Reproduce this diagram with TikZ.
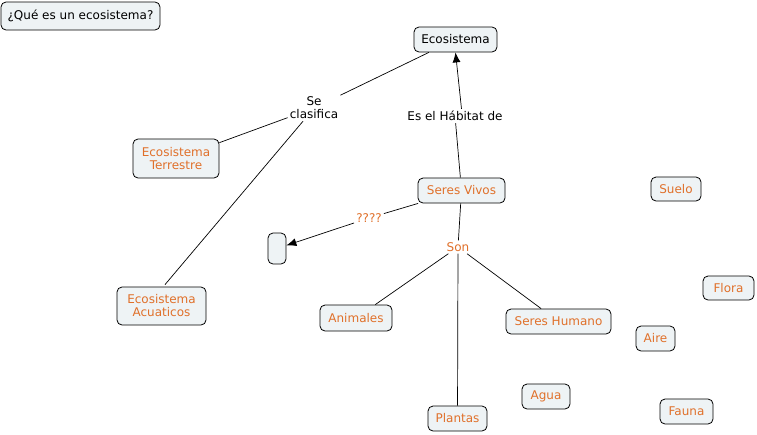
\documentclass[tikz,border=0pt]{standalone}
\usepackage{fontspec}
\setmainfont{DejaVu Sans}
\usetikzlibrary{arrows.meta}
\definecolor{boxfill}{HTML}{EEF3F5}
\definecolor{orng}{HTML}{E0702A}
\begin{document}
\begin{tikzpicture}[x=1pt,y=-1pt,
  every node/.style={font=\fontsize{12}{14}\selectfont},
  cbox/.style={draw=black, line width=0.8pt, fill=boxfill, rounded corners=5pt, align=center, inner sep=0pt},
  obox/.style={cbox, text=orng},
  lbl/.style={align=center, inner sep=2pt, fill=white},
  olbl/.style={lbl, text=orng},
  conn/.style={line width=0.7pt},
  arr/.style={conn, -{Latex[length=10pt,width=8pt]}}
]
\useasboundingbox (0,0) rectangle (757,434);
\node[cbox, minimum width=159pt, minimum height=28pt] (title) at (80.5,16) {¿Qué es un ecosistema?};
\node[cbox, minimum width=83pt, minimum height=25pt] (eco) at (455.5,39.5) {Ecosistema};
\node[lbl] (secl) at (314,108) {Se\\[-1pt]clasifica};
\node[obox, minimum width=86pt, minimum height=39pt] (terr) at (176,158.5) {Ecosistema\\[-1pt]Terrestre};
\node[lbl] (hab) at (455,116) {Es el Hábitat de};
\node[obox, minimum width=87pt, minimum height=25pt] (sv) at (461.5,190.5) {Seres Vivos};
\node[obox, minimum width=50pt, minimum height=24pt] (suelo) at (676,189) {Suelo};
\node[olbl] (q) at (369,218) {????};
\node[cbox, minimum width=18pt, minimum height=31pt] (empty) at (277,248.5) {};
\node[olbl] (son) at (458,247) {Son};
\node[obox, minimum width=51pt, minimum height=24pt] (flora) at (728.5,288) {Flora};
\node[obox, minimum width=89pt, minimum height=38pt] (acua) at (161.5,306) {Ecosistema\\[-1pt]Acuaticos};
\node[obox, minimum width=72pt, minimum height=26pt] (anim) at (356,318) {Animales};
\node[obox, minimum width=105pt, minimum height=25pt] (hum) at (558.5,321.5) {Seres Humano};
\node[obox, minimum width=39pt, minimum height=25pt] (aire) at (655.5,338.5) {Aire};
\node[obox, minimum width=48pt, minimum height=25pt] (agua) at (546,396.5) {Agua};
\node[obox, minimum width=59pt, minimum height=25pt] (plant) at (457.5,418.5) {Plantas};
\node[obox, minimum width=53pt, minimum height=25pt] (fauna) at (686.5,411.5) {Fauna};

\draw[conn] (eco) -- (secl);
\draw[conn] (secl) -- (terr);
\coordinate (sc1) at ([xshift=-11pt]secl.south);
\coordinate (ac1) at ([xshift=3.5pt,yshift=2pt]acua.north);
\draw[conn] (sc1) -- (ac1);
\draw[conn] (sv) -- (hab);
\draw[arr] (hab.north -| sv.center) -- (eco.south);
\draw[conn] (sv) -- (q);
\draw[arr] (q) -- (empty);
\draw[conn] (sv) -- (son);
\draw[conn] (son) -- (anim);
\draw[conn] (son) -- (hum);
\draw[conn] (son) -- (plant);
\end{tikzpicture}
\end{document}
